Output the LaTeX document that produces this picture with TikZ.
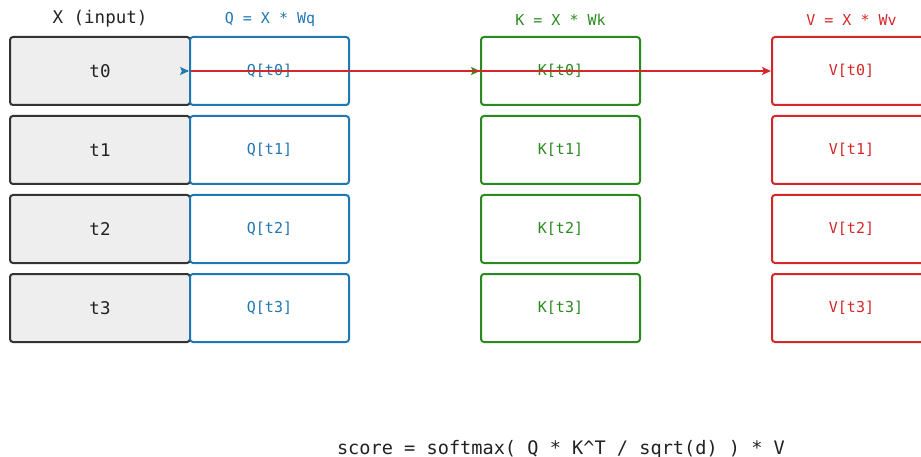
\documentclass[tikz,border=0pt]{standalone}
\usepackage{fontspec}
\setmainfont{DejaVu Sans Mono}
\usetikzlibrary{arrows.meta}
\definecolor{qblue}{HTML}{1F77B4}
\definecolor{kgreen}{HTML}{2A8A1F}
\definecolor{vred}{HTML}{D62728}
\definecolor{xfill}{HTML}{EEEEEE}
\definecolor{xline}{HTML}{333333}
\definecolor{ink}{HTML}{222222}
\tikzset{
  cell/.style={rounded corners=3pt, line width=2pt, minimum height=68pt, inner sep=0pt, anchor=center},
  xcell/.style={cell, draw=xline, fill=xfill, minimum width=180pt, text=ink, font=\fontsize{17.5}{20}\selectfont},
  qcell/.style={cell, draw=qblue, fill=white, minimum width=159pt, text=qblue, font=\fontsize{15}{18}\selectfont},
  kcell/.style={cell, draw=kgreen, fill=white, minimum width=159pt, text=kgreen, font=\fontsize{15}{18}\selectfont},
  vcell/.style={cell, draw=vred, fill=white, minimum width=159pt, text=vred, font=\fontsize{15}{18}\selectfont},
  coltitle/.style={font=\fontsize{15}{18}\selectfont, inner sep=0pt},
  flow/.style={line width=2.3pt, -{Stealth[length=9pt,width=8pt,inset=2pt]}},
}
\begin{document}
\begin{tikzpicture}[x=1pt, y=-1pt]
  \useasboundingbox (0,0) rectangle (921,457);
  \clip (0,0) rectangle (921,457);

  % column headings
  \node[coltitle, text=ink, font=\fontsize{17.5}{20}\selectfont] (hx) at (100,19) {X (input)};
  \node[coltitle, text=qblue] (hq) at (270,19.5) {Q = X * Wq};
  \node[coltitle, text=kgreen] (hk) at (560.5,19.5) {K = X * Wk};
  \node[coltitle, text=vred] (hv) at (851.5,19.5) {V = X * Wv};

  % token rows: input, query, key, value
  \foreach \i/\y in {0/71, 1/150, 2/229, 3/308} {
    \node[xcell] (x\i) at (100,\y) {t\i};
    \node[qcell] (q\i) at (269.5,\y) {Q[t\i]};
    \node[kcell] (k\i) at (560.5,\y) {K[t\i]};
    \node[vcell] (v\i) at (851.5,\y) {V[t\i]};
  }

  % projections of the first token
  \coordinate (qin) at ([xshift=-1pt]q0.west);
  \draw[flow, qblue] (qin) -- (q0.west);
  \draw[flow, kgreen] (x0.east) -- (k0.west);
  \draw[flow, vred] (x0.east) -- (v0.west);

  % attention formula
  \node[text=ink, font=\fontsize{18.6}{22}\selectfont, inner sep=0pt] (formula) at (561,449) {score = softmax( Q * K\^{}T / sqrt(d) ) * V};
\end{tikzpicture}
\end{document}
